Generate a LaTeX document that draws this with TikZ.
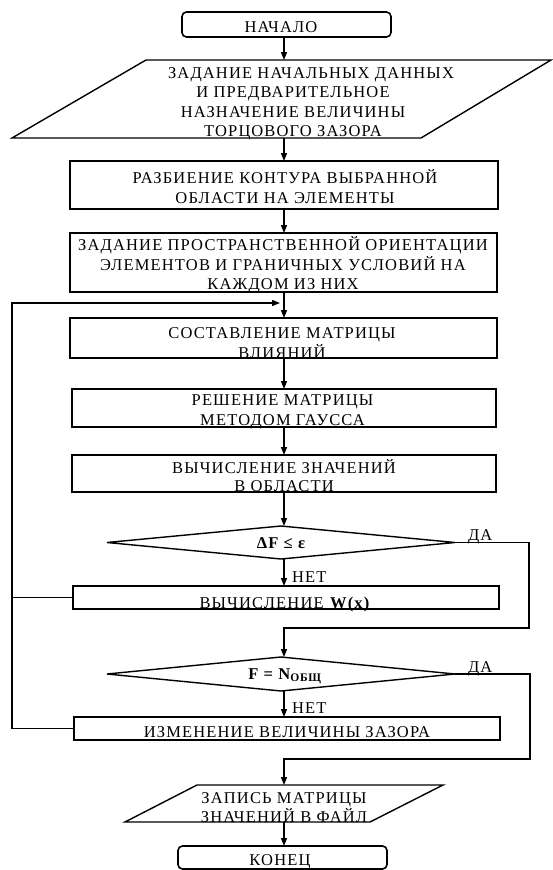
\documentclass[tikz,border=0pt]{standalone}
\usepackage{fontspec}
\setmainfont{Liberation Serif}[LetterSpace=7]
\usetikzlibrary{arrows.meta,shapes.geometric}
\newcommand{\mlines}[1]{\begin{tabular}[t]{@{}c@{}}#1\end{tabular}}
\begin{document}
\begin{tikzpicture}[x=1pt,y=-1pt,
  every node/.style={font=\fontsize{16.5}{19.6}\selectfont,inner sep=0pt,outer sep=0pt},
  box/.style={draw,line width=1.9pt},
  term/.style={draw,line width=1.6pt,rounded corners=4.5pt},
  shp/.style={line width=1.4pt,line join=miter},
  dia/.style={draw,diamond,line width=1.4pt,minimum width=348pt,minimum height=33pt},
  lbl/.style={anchor=base},
  conn/.style={line width=1.5pt},
  arr/.style={conn,-{Triangle[length=8pt,width=6pt]}}]
\useasboundingbox (0,0) rectangle (552,870);
\fill[white] (0,0) rectangle (552,870);
\coordinate (ax) at (284,0);
\coordinate (lft) at (12,0);

% start
\node[term,minimum width=209pt,minimum height=25pt] (start) at (286.5,24.5) {};
\node[lbl] (startt) at (281,32.5) {НАЧАЛО};

% input
\node[minimum width=405pt,minimum height=78pt] (inp) at (281.5,99) {};
\draw[shp] (146,60) -- (551,60) -- (421,138) -- (12,138) -- cycle;
\node[lbl] (inpt) at (293,78) {\mlines{\hspace*{36pt}ЗАДАНИЕ НАЧАЛЬНЫХ ДАННЫХ\\И ПРЕДВАРИТЕЛЬНОЕ\\НАЗНАЧЕНИЕ ВЕЛИЧИНЫ\\ТОРЦОВОГО ЗАЗОРА}};

% boxes
\node[box,minimum width=428pt,minimum height=48pt] (b2) at (284,185) {};
\node[lbl] (b2t) at (285,183.5) {\mlines{РАЗБИЕНИЕ КОНТУРА ВЫБРАННОЙ\\ОБЛАСТИ НА ЭЛЕМЕНТЫ}};

\node[box,minimum width=427pt,minimum height=59pt] (b3) at (283.5,262.5) {};
\node[lbl] (b3t) at (283,250.5) {\mlines{ЗАДАНИЕ ПРОСТРАНСТВЕННОЙ ОРИЕНТАЦИИ\\ЭЛЕМЕНТОВ И ГРАНИЧНЫХ УСЛОВИЙ НА\\КАЖДОМ ИЗ НИХ}};

\node[box,minimum width=427pt,minimum height=40pt] (b4) at (283.5,338) {};
\node[lbl] (b4t) at (282,338.5) {\mlines{СОСТАВЛЕНИЕ МАТРИЦЫ\\ВЛИЯНИЙ}};

\node[box,minimum width=424pt,minimum height=38pt] (b5) at (284,408) {};
\node[lbl] (b5t) at (282.5,405.5) {\mlines{РЕШЕНИЕ МАТРИЦЫ\\МЕТОДОМ ГАУССА}};

\node[box,minimum width=424pt,minimum height=37pt] (b6) at (284,473.5) {};
\node[lbl] (b6t) at (284,473) {\mlines{ВЫЧИСЛЕНИЕ ЗНАЧЕНИЙ\\[-1.6pt]В ОБЛАСТИ}};

% decision 1
\node[dia] (d1) at (281,542.5) {};
\node[lbl] (d1t) at (281.5,548.5) {\textbf{ΔF ≤ ε}};
\node[lbl,anchor=base west] (da1) at (468,540) {ДА};
\node[lbl,anchor=base west] (net1) at (292,582) {НЕТ};

\node[box,minimum width=426pt,minimum height=23pt] (b7) at (286,597.5) {};
\node[lbl] (b7t) at (285,608) {ВЫЧИСЛЕНИЕ \textbf{W(x)}};

% decision 2
\node[dia,minimum height=34pt] (d2) at (281,674) {};
\node[lbl] (d2t) at (285,679) {\textbf{F = N\textsubscript{ОБЩ}}};
\node[lbl,anchor=base west] (da2) at (468,672) {ДА};
\node[lbl,anchor=base west] (net2) at (292,713) {НЕТ};

\node[box,minimum width=426pt,minimum height=23pt] (b8) at (287,728.5) {};
\node[lbl] (b8t) at (287,737) {ИЗМЕНЕНИЕ ВЕЛИЧИНЫ ЗАЗОРА};

% output
\node[minimum width=246pt,minimum height=37pt] (out) at (283.5,803.5) {};
\draw[shp] (197,785) -- (443,785) -- (370,822) -- (125,822) -- cycle;
\node[lbl] (outt) at (284,803) {\mlines{ЗАПИСЬ МАТРИЦЫ\\ЗНАЧЕНИЙ В ФАЙЛ}};

% end
\node[term,minimum width=209pt,minimum height=23pt] (end) at (282.5,857.5) {};
\node[lbl] (endt) at (280,865) {КОНЕЦ};

% connectors
\draw[arr] (start.south -| ax) -- (inp.north -| ax);
\draw[arr] (inp.south -| ax) -- (b2.north -| ax);
\draw[arr] (b2.south -| ax) -- (b3.north -| ax);
\draw[arr] (b3.south -| ax) -- (b4.north -| ax);
\draw[arr] (b4.south -| ax) -- (b5.north -| ax);
\draw[arr] (b5.south -| ax) -- (b6.north -| ax);
\draw[arr] (b6.south -| ax) -- (d1.north -| ax);
\draw[arr] (d1.south -| ax) -- (b7.north -| ax);
\coordinate (r1) at (529,628);
\draw[arr] (d1.east) -| (r1) -| (d2.north -| ax);
\draw[arr] (d2.south -| ax) -- (b8.north -| ax);
\coordinate (r2) at (530,759);
\draw[arr] (d2.east) -| (r2) -| (out.north -| ax);
\draw[arr] (out.south -| ax) -- (end.north -| ax);
\coordinate (fb) at (280,303);
\draw[arr] (b8.west) -| (lft |- fb) -- (fb);
\draw[conn] (b7.west) -- (b7.west -| lft);
\end{tikzpicture}
\end{document}
